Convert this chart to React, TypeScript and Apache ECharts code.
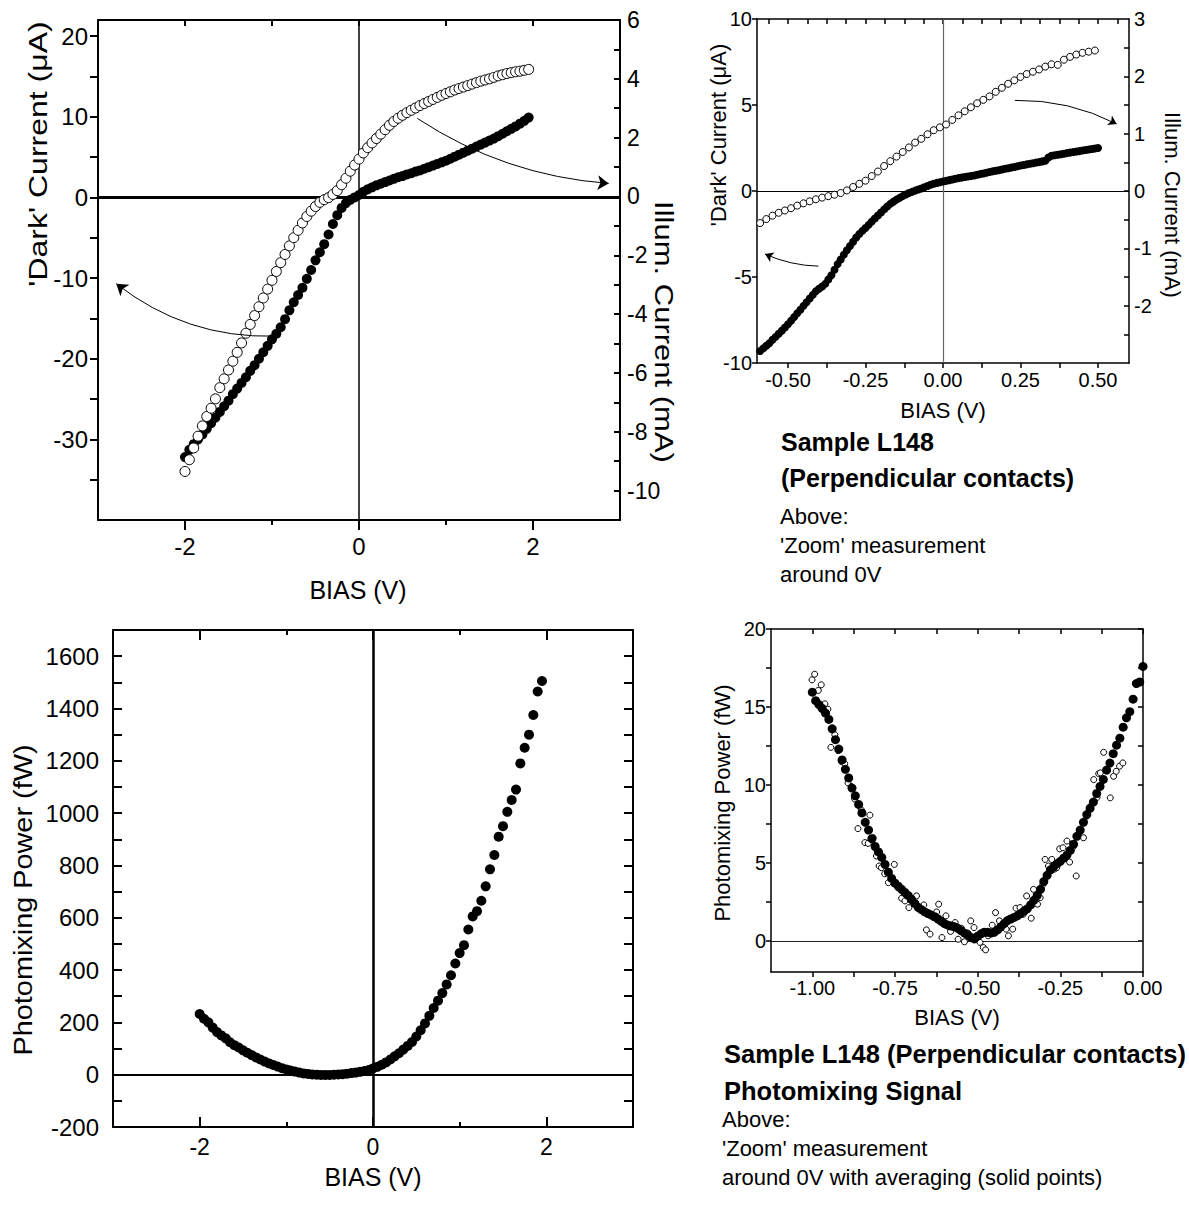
import React, { useEffect, useRef } from 'react';
import * as echarts from 'echarts';

const FONT = '"Liberation Sans", Arial, Helvetica, sans-serif';

// ---------- Panel 1: wide I-V sweep ----------
const ivBias = [-2, -1.95, -1.9, -1.85, -1.8, -1.75, -1.7, -1.65, -1.6, -1.55, -1.5, -1.45, -1.4, -1.35, -1.3, -1.25, -1.2, -1.15, -1.1, -1.05, -1, -0.95, -0.9, -0.85, -0.8, -0.75, -0.7, -0.65, -0.6, -0.55, -0.5, -0.45, -0.4, -0.35, -0.3, -0.25, -0.2, -0.15, -0.1, -0.05, 0, 0.05, 0.1, 0.15, 0.2, 0.25, 0.3, 0.35, 0.4, 0.45, 0.5, 0.55, 0.6, 0.65, 0.7, 0.75, 0.8, 0.85, 0.9, 0.95, 1, 1.05, 1.1, 1.15, 1.2, 1.25, 1.3, 1.35, 1.4, 1.45, 1.5, 1.55, 1.6, 1.65, 1.7, 1.75, 1.8, 1.85, 1.9, 1.95];
const ivDark = [
  -32.2, -31.3, -30.6, -30.0, -29.4, -28.7, -28.0, -27.3, -26.6, -25.9,
  -25.2, -24.4, -23.7, -23.0, -22.3, -21.5, -20.8, -20.0, -19.2, -18.4,
  -17.6, -16.9, -16.1, -15.1, -14.0, -13.0, -12.1, -11.2, -10.1, -9.0,
  -7.8, -6.8, -5.8, -4.6, -3.3, -2.2, -1.3, -0.7, -0.3, 0.0,
  0.3, 0.7, 1.0, 1.25, 1.5, 1.7, 1.9, 2.1, 2.3, 2.5,
  2.65, 2.85, 3.0, 3.2, 3.35, 3.55, 3.75, 3.95, 4.15, 4.35,
  4.55, 4.8, 5.05, 5.3, 5.55, 5.8, 6.05, 6.3, 6.55, 6.8,
  7.05, 7.3, 7.6, 7.9, 8.2, 8.5, 8.8, 9.15, 9.5, 9.9,
];
const ivIllum = [
  -9.35, -8.95, -8.55, -8.15, -7.8, -7.48, -7.2, -6.88, -6.5, -6.2,
  -5.9, -5.6, -5.3, -4.98, -4.65, -4.35, -4.05, -3.75, -3.45, -3.15,
  -2.85, -2.55, -2.25, -1.97, -1.68, -1.4, -1.15, -0.9, -0.68, -0.5,
  -0.34, -0.2, -0.11, -0.04, 0.07, 0.2, 0.4, 0.62, 0.86, 1.07,
  1.27, 1.48, 1.66, 1.82, 1.97, 2.12, 2.27, 2.42, 2.55, 2.66,
  2.76, 2.85, 2.93, 3.01, 3.09, 3.16, 3.23, 3.3, 3.37, 3.44,
  3.5, 3.56, 3.62, 3.67, 3.72, 3.77, 3.82, 3.87, 3.92, 3.96,
  4.0, 4.05, 4.1, 4.14, 4.18, 4.21, 4.24, 4.26, 4.29, 4.32,
];
const ivXLabels = [-2, 0, 2];
const ivXMinorTicks = [-1, 1];
const ivXTopTicks = [-2, -1, 0, 1, 2];
const ivLeftLabels = [-30, -20, -10, 0, 10, 20];
const ivLeftTicks = [-35, -30, -25, -20, -15, -10, -5, 0, 5, 10, 15, 20];
const ivRightLabels = [-10, -8, -6, -4, -2, 0, 2, 4, 6];
const ivRightTicks = [-10, -9, -8, -7, -6, -5, -4, -3, -2, -1, 0, 1, 2, 3, 4, 5];
// annotation arrows (data units of left axis): [x1, y1, x2, y2]
const ivArrowIllum = [0.67, 9.8, 2.87, 1.74];
const ivArrowDark = [-0.97, -17.2, -2.79, -10.7];

// ---------- Panel 2: zoomed I-V around 0 V ----------
const zoomDarkBias = [
  -0.59, -0.58, -0.57, -0.56, -0.55, -0.54, -0.53, -0.52, -0.51, -0.5,
  -0.49, -0.48, -0.47, -0.46, -0.45, -0.44, -0.43, -0.42, -0.41, -0.4,
  -0.39, -0.38, -0.37, -0.36, -0.35, -0.34, -0.33, -0.32, -0.31, -0.3,
  -0.29, -0.28, -0.27, -0.26, -0.25, -0.24, -0.23, -0.22, -0.21, -0.2,
  -0.19, -0.18, -0.17, -0.16, -0.15, -0.14, -0.13, -0.12, -0.11, -0.1,
  -0.09, -0.08, -0.07, -0.06, -0.05, -0.04, -0.03, -0.02, -0.01, 0,
  0.01, 0.02, 0.03, 0.04, 0.05, 0.06, 0.07, 0.08, 0.09, 0.1,
  0.11, 0.12, 0.13, 0.14, 0.15, 0.16, 0.17, 0.18, 0.19, 0.2,
  0.21, 0.22, 0.23, 0.24, 0.25, 0.26, 0.27, 0.28, 0.29, 0.3,
  0.31, 0.32, 0.33, 0.34, 0.35, 0.36, 0.37, 0.38, 0.39, 0.4,
  0.41, 0.42, 0.43, 0.44, 0.45, 0.46, 0.47, 0.48, 0.49, 0.5,
];
const zoomDark = [
  -9.3, -9.15, -9.0, -8.85, -8.65, -8.48, -8.3, -8.12, -7.94, -7.75,
  -7.54, -7.33, -7.11, -6.9, -6.68, -6.47, -6.25, -6.04, -5.83, -5.68,
  -5.55, -5.4, -5.15, -4.9, -4.58, -4.25, -3.98, -3.7, -3.44, -3.2,
  -2.95, -2.7, -2.5, -2.32, -2.15, -1.97, -1.78, -1.6, -1.42, -1.25,
  -1.07, -0.9, -0.75, -0.62, -0.5, -0.4, -0.3, -0.2, -0.12, -0.05,
  0.02, 0.09, 0.15, 0.22, 0.29, 0.36, 0.42, 0.47, 0.51, 0.55,
  0.59, 0.63, 0.67, 0.71, 0.75, 0.78, 0.81, 0.84, 0.87, 0.9,
  0.94, 0.98, 1.02, 1.06, 1.1, 1.14, 1.18, 1.21, 1.25, 1.29,
  1.32, 1.36, 1.4, 1.44, 1.48, 1.51, 1.55, 1.58, 1.61, 1.65,
  1.68, 1.72, 1.76, 1.95, 2.05, 2.08, 2.11, 2.14, 2.17, 2.2,
  2.23, 2.26, 2.29, 2.32, 2.35, 2.38, 2.41, 2.44, 2.47, 2.5,
];
const zoomIllumBias = [
  -0.59, -0.57, -0.55, -0.53, -0.51, -0.49, -0.47, -0.45, -0.43, -0.41,
  -0.39, -0.37, -0.35, -0.33, -0.31, -0.29, -0.27, -0.25, -0.23, -0.21,
  -0.19, -0.17, -0.15, -0.13, -0.11, -0.09, -0.07, -0.05, -0.03, -0.01,
  0.01, 0.03, 0.05, 0.07, 0.09, 0.11, 0.13, 0.15, 0.17, 0.19,
  0.21, 0.23, 0.25, 0.27, 0.29, 0.31, 0.33, 0.35, 0.37, 0.39,
  0.41, 0.43, 0.45, 0.47, 0.49,
];
const zoomIllum = [
  -0.56, -0.49, -0.43, -0.38, -0.34, -0.3, -0.255, -0.215, -0.18, -0.145,
  -0.115, -0.09, -0.065, -0.035, 0.01, 0.07, 0.125, 0.18, 0.26, 0.34,
  0.435, 0.52, 0.6, 0.68, 0.76, 0.845, 0.91, 0.99, 1.06, 1.11,
  1.16, 1.24, 1.32, 1.39, 1.46, 1.53, 1.59, 1.65, 1.73, 1.8,
  1.87, 1.93, 1.99, 2.04, 2.08, 2.12, 2.17, 2.21, 2.2, 2.29,
  2.34, 2.38, 2.41, 2.43, 2.45,
];
const zoomXLabels = [-0.5, -0.25, 0, 0.25, 0.5];
const zoomXTicks = [-0.5, -0.375, -0.25, -0.125, 0, 0.125, 0.25, 0.375, 0.5];
const zoomXTopTicks = [-0.5625, -0.5, -0.4375, -0.375, -0.3125, -0.25, -0.1875, -0.125, -0.0625, 0, 0.0625, 0.125, 0.1875, 0.25, 0.3125, 0.375, 0.4375, 0.5, 0.5625];
const zoomLeftLabels = [-10, -5, 0, 5, 10];
const zoomRightLabels = [-2, -1, 0, 1, 2, 3];
const zoomRightTicks = [-2.5, -2, -1.5, -1, -0.5, 0, 0.5, 1, 1.5, 2, 2.5];
const zoomArrowIllum = [0.232, 5.27, 0.56, 3.9];
const zoomArrowDark = [-0.402, -4.37, -0.574, -3.67];

// ---------- Panel 3: photomixing power, wide sweep ----------
const pmBias = [-2, -1.95, -1.9, -1.85, -1.8, -1.75, -1.7, -1.65, -1.6, -1.55, -1.5, -1.45, -1.4, -1.35, -1.3, -1.25, -1.2, -1.15, -1.1, -1.05, -1, -0.95, -0.9, -0.85, -0.8, -0.75, -0.7, -0.65, -0.6, -0.55, -0.5, -0.45, -0.4, -0.35, -0.3, -0.25, -0.2, -0.15, -0.1, -0.05, 0, 0.05, 0.1, 0.15, 0.2, 0.25, 0.3, 0.35, 0.4, 0.45, 0.5, 0.55, 0.6, 0.65, 0.7, 0.75, 0.8, 0.85, 0.9, 0.95, 1, 1.05, 1.1, 1.15, 1.2, 1.25, 1.3, 1.35, 1.4, 1.45, 1.5, 1.55, 1.6, 1.65, 1.7, 1.75, 1.8, 1.85, 1.9, 1.95];
const pmPower = [
  232, 214, 200, 180, 163, 150, 139, 124, 113, 104,
  93, 84, 75, 66, 58, 50, 43, 37, 31, 25,
  20, 16, 12, 8, 5, 3, 1, 0, -1, -1,
  -1, 0, 1, 2, 4, 6, 8, 11, 14, 18,
  24, 30, 38, 47, 58, 70, 82, 96, 110, 125,
  146, 170, 196, 225, 255, 283, 312, 345, 380, 425,
  465, 495, 555, 605, 625, 665, 720, 785, 840, 910,
  950, 1005, 1050, 1090, 1190, 1250, 1300, 1375, 1465, 1505,
];
const pmXLabels = [-2, 0, 2];
const pmXMinorTicks = [-1, 1];
const pmYLabels = [-200, 0, 200, 400, 600, 800, 1000, 1200, 1400, 1600];
const pmYTicks = [-100, 0, 100, 200, 300, 400, 500, 600, 700, 800, 900, 1000, 1100, 1200, 1300, 1400, 1500, 1600];

// ---------- Panel 4: photomixing power, zoom with averaging ----------
const avgBias = [
  -1, -0.99, -0.98, -0.97, -0.96, -0.95, -0.94, -0.93, -0.92, -0.91,
  -0.9, -0.89, -0.88, -0.87, -0.86, -0.85, -0.84, -0.83, -0.82, -0.81,
  -0.8, -0.79, -0.78, -0.77, -0.76, -0.75, -0.74, -0.73, -0.72, -0.71,
  -0.7, -0.69, -0.68, -0.67, -0.66, -0.65, -0.64, -0.63, -0.62, -0.61,
  -0.6, -0.59, -0.58, -0.57, -0.56, -0.55, -0.54, -0.53, -0.52, -0.51,
  -0.5, -0.49, -0.48, -0.47, -0.46, -0.45, -0.44, -0.43, -0.42, -0.41,
  -0.4, -0.39, -0.38, -0.37, -0.36, -0.35, -0.34, -0.33, -0.32, -0.31,
  -0.3, -0.29, -0.28, -0.27, -0.26, -0.25, -0.24, -0.23, -0.22, -0.21,
  -0.2, -0.19, -0.18, -0.17, -0.16, -0.15, -0.14, -0.13, -0.12, -0.11,
  -0.1, -0.09, -0.08, -0.07, -0.06, -0.05, -0.04, -0.03, -0.02, -0.01,
  0,
];
const avgPower = [
  15.95, 15.4, 15.15, 14.9, 14.6, 14.2, 13.6, 12.9, 12.3, 11.6,
  11.0, 10.45, 9.8, 9.3, 8.75, 8.2, 7.6, 7.1, 6.55, 6.05,
  5.7, 5.35, 4.9, 4.4, 4.0, 3.7, 3.5, 3.3, 3.1, 2.9,
  2.65, 2.4, 2.15, 2.0, 1.85, 1.75, 1.65, 1.55, 1.4, 1.25,
  1.1, 1.0, 0.95, 0.9, 0.8, 0.65, 0.5, 0.38, 0.22, 0.12,
  0.3, 0.45, 0.55, 0.55, 0.5, 0.55, 0.7, 0.9, 1.1, 1.3,
  1.4, 1.5, 1.6, 1.75, 1.9, 2.05, 2.3, 2.6, 2.9, 3.3,
  3.8, 4.2, 4.55, 4.75, 4.95, 5.1, 5.3, 5.5, 5.8, 6.2,
  6.7, 7.1, 7.6, 8.1, 8.5, 8.9, 9.45, 9.9, 10.35, 10.95,
  11.4, 12.0, 12.55, 13.0, 13.7, 14.3, 14.7, 15.5, 16.5, 16.6,
  17.6,
];
const rawBias = [
  -1.001, -0.993, -0.982, -0.973, -0.962, -0.953, -0.944, -0.932, -0.922, -0.912,
  -0.902, -0.892, -0.882, -0.872, -0.862, -0.852, -0.841, -0.831, -0.826, -0.816,
  -0.806, -0.798, -0.791, -0.781, -0.772, -0.77, -0.752, -0.74, -0.73, -0.72,
  -0.708, -0.695, -0.685, -0.674, -0.663, -0.655, -0.644, -0.634, -0.624, -0.618,
  -0.608, -0.596, -0.582, -0.568, -0.559, -0.549, -0.54, -0.53, -0.521, -0.511,
  -0.502, -0.493, -0.483, -0.476, -0.468, -0.456, -0.446, -0.434, -0.424, -0.414,
  -0.407, -0.394, -0.384, -0.372, -0.362, -0.352, -0.338, -0.331, -0.319, -0.311,
  -0.303, -0.296, -0.286, -0.276, -0.268, -0.261, -0.252, -0.242, -0.23, -0.222,
  -0.212, -0.202, -0.19, -0.18, -0.17, -0.16, -0.149, -0.139, -0.134, -0.129,
  -0.119, -0.109, -0.099, -0.089, -0.081, -0.071, -0.061,
];
const rawPower = [
  16.74, 17.1, 16.06, 16.42, 15.2, 14.86, 12.41, 13.22, 12.2, 11.5,
  11.36, 10.13, 9.9, 9.1, 7.2, 8.4, 6.3, 6.25, 8.06, 6.61,
  5.44, 4.8, 4.69, 4.3, 4.37, 3.73, 4.9, 3.4, 2.73, 2.56,
  2.13, 2.5, 2.88, 2.0, 2.3, 0.7, 0.43, 1.5, 1.85, 2.35,
  0.21, 1.6, 0.6, 1.17, 0.1, 0.8, -0.06, 0.5, 1.28, 0.85,
  0.3, -0.1, -0.43, -0.58, 0.32, 1.0, 1.81, 1.28, 0.9, 0.75,
  0.32, 0.75, 2.09, 2.13, 1.7, 2.88, 1.45, 3.3, 2.35, 2.77,
  3.6, 5.22, 4.8, 5.22, 4.6, 4.69, 5.9, 5.97, 6.4, 5.05,
  6.0, 4.16, 7.0, 6.61, 8.0, 8.6, 10.34, 9.2, 10.72, 10.77,
  12.09, 10.9, 9.17, 10.55, 10.87, 11.2, 11.41,
];
const avgXLabels = [-1, -0.75, -0.5, -0.25, 0];
const avgXTicks = [-1, -0.875, -0.75, -0.625, -0.5, -0.375, -0.25, -0.125, 0];
const avgYLabels = [0, 5, 10, 15, 20];
const avgYTicks = [0, 2.5, 5, 7.5, 10, 12.5, 15, 17.5, 20];

// ---------- helpers ----------
type AxOpt = {
  grid: number; pos: string; min: number; max: number;
  labels?: number[]; ticks?: number[]; inside?: boolean; len?: number;
  lw?: number; fs?: number; margin?: number; fmt?: (v: number) => string; line?: boolean;
};
const plain = (v: number) => String(v);
function mkAxis(o: AxOpt) {
  return {
    type: 'value',
    gridIndex: o.grid,
    position: o.pos,
    min: o.min,
    max: o.max,
    scale: false,
    splitLine: { show: false },
    minorTick: { show: false },
    minorSplitLine: { show: false },
    axisPointer: { show: false },
    axisLine: { show: o.line !== false, onZero: false, lineStyle: { color: '#000', width: o.lw ?? 1.5 } },
    axisTick: o.ticks
      ? { show: true, customValues: o.ticks, inside: !!o.inside, length: o.len ?? 5, lineStyle: { color: '#000', width: o.lw ?? 1.5 } }
      : { show: false },
    axisLabel: o.labels
      ? {
          show: true,
          customValues: o.labels,
          color: '#000',
          fontFamily: FONT,
          fontSize: o.fs ?? 20,
          margin: o.margin ?? 8,
          formatter: o.fmt ?? plain,
        }
      : { show: false },
  };
}
const zip = (xs: number[], ys: number[]) => xs.map((x, i) => [x, ys[i]]);
const arrowItem = (a: number[]) => ({ coords: [[a[0], a[1]], [a[2], a[3]]] });
const f2 = (v: number) => v.toFixed(2);

function txt(text: string, x: number, y: number, size: number, opts: any = {}) {
  const align = opts.align ?? 'left';
  return {
    type: 'text',
    x,
    y,
    rotation: opts.rotation ?? 0,
    scaleX: opts.sx ?? 1,
    scaleY: opts.sy ?? 1,
    silent: true,
    style: {
      text,
      font: `${opts.bold ? 'bold ' : ''}${size}px ${FONT}`,
      fill: '#000',
      align,
      verticalAlign: 'middle',
      textAlign: align,
      textVerticalAlign: 'middle',
    },
  };
}

export default function App() {
  const ref = useRef<HTMLDivElement>(null);

  useEffect(() => {
    document.body.style.margin = '0';
    if (!ref.current) return;
    const chart = echarts.init(ref.current, undefined, { renderer: 'svg' });

    const filled = { color: '#000', opacity: 1 };
    const hollow = { color: '#fff', borderColor: '#000', borderWidth: 1, opacity: 1 };

    const option: any = {
      animation: false,
      backgroundColor: '#fff',
      grid: [
        { left: 98, top: 20, width: 522, height: 500 },
        { left: 757, top: 19, width: 372, height: 344 },
        { left: 113, top: 630, width: 520, height: 497 },
        { left: 771, top: 629, width: 372, height: 343 },
      ],
      xAxis: [
        // panel 1
        mkAxis({ grid: 0, pos: 'bottom', min: -3, max: 3, labels: ivXLabels, ticks: ivXLabels, len: 10, lw: 2, fs: 24, margin: 14 }),
        mkAxis({ grid: 0, pos: 'bottom', min: -3, max: 3, ticks: ivXMinorTicks, len: 5, lw: 2, line: false }),
        mkAxis({ grid: 0, pos: 'top', min: -3, max: 3, ticks: ivXTopTicks, inside: true, len: 6, lw: 2 }),
        // panel 2
        mkAxis({ grid: 1, pos: 'bottom', min: -0.6, max: 0.6, labels: zoomXLabels, ticks: zoomXTicks, len: 5, lw: 1.5, fs: 20, margin: 7, fmt: f2 }),
        mkAxis({ grid: 1, pos: 'top', min: -0.6, max: 0.6, ticks: zoomXTopTicks, inside: true, len: 5, lw: 1.5 }),
        // panel 3
        mkAxis({ grid: 2, pos: 'bottom', min: -3, max: 3, labels: pmXLabels, ticks: pmXLabels, inside: true, len: 10, lw: 2, fs: 23, margin: 8 }),
        mkAxis({ grid: 2, pos: 'bottom', min: -3, max: 3, ticks: pmXMinorTicks, inside: true, len: 5, lw: 2, line: false }),
        mkAxis({ grid: 2, pos: 'top', min: -3, max: 3, ticks: pmXLabels, inside: true, len: 10, lw: 2 }),
        mkAxis({ grid: 2, pos: 'top', min: -3, max: 3, ticks: pmXMinorTicks, inside: true, len: 5, lw: 2, line: false }),
        // panel 4
        mkAxis({ grid: 3, pos: 'bottom', min: -1.125, max: 0, labels: avgXLabels, ticks: avgXTicks, len: 5, lw: 1.5, fs: 20, margin: 6, fmt: f2 }),
        mkAxis({ grid: 3, pos: 'top', min: -1.125, max: 0, ticks: avgXTicks, inside: true, len: 5, lw: 1.5 }),
      ],
      yAxis: [
        // panel 1
        mkAxis({ grid: 0, pos: 'left', min: -40, max: 22, labels: ivLeftLabels, ticks: ivLeftTicks, len: 8, lw: 2, fs: 24, margin: 10 }),
        mkAxis({ grid: 0, pos: 'right', min: -11, max: 6, labels: ivRightLabels, ticks: ivRightTicks, inside: true, len: 6, lw: 2, fs: 23, margin: 7 }),
        // panel 2
        mkAxis({ grid: 1, pos: 'left', min: -10, max: 10, labels: zoomLeftLabels, ticks: zoomLeftLabels, len: 5, lw: 1.5, fs: 20, margin: 5 }),
        mkAxis({ grid: 1, pos: 'right', min: -3, max: 3, labels: zoomRightLabels, ticks: zoomRightTicks, inside: true, len: 5, lw: 1.5, fs: 20, margin: 5 }),
        // panel 3
        mkAxis({ grid: 2, pos: 'left', min: -200, max: 1700, labels: pmYLabels, ticks: pmYTicks, inside: true, len: 9, lw: 2, fs: 24, margin: 14 }),
        mkAxis({ grid: 2, pos: 'right', min: -200, max: 1700, ticks: pmYTicks, inside: true, len: 9, lw: 2 }),
        // panel 4
        mkAxis({ grid: 3, pos: 'left', min: -2, max: 20, labels: avgYLabels, ticks: avgYTicks, len: 5, lw: 1.5, fs: 20, margin: 5 }),
        mkAxis({ grid: 3, pos: 'right', min: -2, max: 20, ticks: avgYTicks, inside: true, len: 5, lw: 1.5 }),
      ],
      series: [
        // ---- panel 1 ----
        {
          type: 'scatter', xAxisIndex: 0, yAxisIndex: 0, z: 3, clip: false,
          symbol: 'circle', symbolSize: 10,
          itemStyle: filled,
          data: zip(ivBias, ivDark),
          markLine: {
            silent: true, symbol: 'none', z: 1, label: { show: false },
            data: [
              { yAxis: 0, lineStyle: { color: '#000', width: 3, type: 'solid' } },
              { xAxis: 0, lineStyle: { color: '#000', width: 1.5, type: 'solid' } },
            ],
          },
        },
        {
          type: 'scatter', xAxisIndex: 0, yAxisIndex: 1, z: 4, clip: false,
          symbol: 'circle', symbolSize: 10,
          itemStyle: hollow,
          data: zip(ivBias, ivIllum),
        },
        {
          type: 'lines', coordinateSystem: 'cartesian2d', xAxisIndex: 0, yAxisIndex: 0, z: 5,
          symbol: ['none', 'arrow'], symbolSize: 11, silent: true,
          lineStyle: { color: '#000', width: 1, opacity: 1 },
          data: [
            { ...arrowItem(ivArrowIllum), lineStyle: { curveness: -0.13 } },
            { ...arrowItem(ivArrowDark), lineStyle: { curveness: 0.18 } },
          ],
        },
        // ---- panel 2 ----
        {
          type: 'scatter', xAxisIndex: 3, yAxisIndex: 2, z: 3, clip: false,
          symbol: 'circle', symbolSize: 8,
          itemStyle: filled,
          data: zip(zoomDarkBias, zoomDark),
          markLine: {
            silent: true, symbol: 'none', z: 1, label: { show: false },
            data: [
              { yAxis: 0, lineStyle: { color: '#000', width: 1, type: 'solid' } },
              { xAxis: 0, lineStyle: { color: '#666', width: 1.2, type: 'solid' } },
            ],
          },
        },
        {
          type: 'scatter', xAxisIndex: 3, yAxisIndex: 3, z: 4, clip: false,
          symbol: 'circle', symbolSize: 7,
          itemStyle: hollow,
          data: zip(zoomIllumBias, zoomIllum),
        },
        {
          type: 'lines', coordinateSystem: 'cartesian2d', xAxisIndex: 3, yAxisIndex: 2, z: 5,
          symbol: ['none', 'arrow'], symbolSize: 8, silent: true,
          lineStyle: { color: '#000', width: 1, opacity: 1 },
          data: [
            { ...arrowItem(zoomArrowIllum), lineStyle: { curveness: 0.125 } },
            { ...arrowItem(zoomArrowDark), lineStyle: { curveness: 0.1 } },
          ],
        },
        // ---- panel 3 ----
        {
          type: 'scatter', xAxisIndex: 5, yAxisIndex: 4, z: 3, clip: false,
          symbol: 'circle', symbolSize: 10,
          itemStyle: filled,
          data: zip(pmBias, pmPower),
          markLine: {
            silent: true, symbol: 'none', z: 1, label: { show: false },
            data: [
              { yAxis: 0, lineStyle: { color: '#000', width: 2, type: 'solid' } },
              { xAxis: 0, lineStyle: { color: '#000', width: 2.5, type: 'solid' } },
            ],
          },
        },
        // ---- panel 4 ----
        {
          type: 'scatter', xAxisIndex: 9, yAxisIndex: 6, z: 3, clip: false,
          symbol: 'circle', symbolSize: 6,
          itemStyle: hollow,
          data: zip(rawBias, rawPower),
          markLine: {
            silent: true, symbol: 'none', z: 1, label: { show: false },
            data: [{ yAxis: 0, lineStyle: { color: '#222', width: 1.2, type: 'solid' } }],
          },
        },
        {
          type: 'scatter', xAxisIndex: 9, yAxisIndex: 6, z: 4, clip: false,
          symbol: 'circle', symbolSize: 9,
          itemStyle: filled,
          data: zip(avgBias, avgPower),
        },
      ],
      graphic: [
        // panel 1 titles
        txt('BIAS (V)', 358, 590, 25, { align: 'center' }),
        txt("'Dark' Current (\u03BCA)", 38, 154, 25, { align: 'center', rotation: Math.PI / 2, sx: 1.28 }),
        txt('Illum. Current (mA)', 663, 332, 25, { align: 'center', rotation: -Math.PI / 2, sx: 1.24 }),
        // panel 2 titles
        txt('BIAS (V)', 943, 410, 22, { align: 'center' }),
        txt("'Dark' Current (\u03BCA)", 718, 135, 22, { align: 'center', rotation: Math.PI / 2 }),
        txt('Illum. Current (mA)', 1172, 205, 22, { align: 'center', rotation: -Math.PI / 2 }),
        // panel 2 caption
        txt('Sample L148', 781, 442, 25, { bold: true }),
        txt('(Perpendicular contacts)', 781, 478, 25, { bold: true }),
        txt('Above:', 780, 516, 22),
        txt("'Zoom' measurement", 780, 545, 22),
        txt('around 0V', 780, 574, 22),
        // panel 3 titles
        txt('BIAS (V)', 373, 1177, 25, { align: 'center' }),
        txt('Photomixing Power (fW)', 23, 900, 26, { align: 'center', rotation: Math.PI / 2, sx: 1.11 }),
        // panel 4 titles
        txt('BIAS (V)', 957, 1017, 22, { align: 'center' }),
        txt('Photomixing Power (fW)', 722, 803, 22, { align: 'center', rotation: Math.PI / 2 }),
        // panel 4 caption
        txt('Sample L148 (Perpendicular contacts)', 724, 1054, 25.5, { bold: true }),
        txt('Photomixing Signal', 724, 1091, 25.5, { bold: true }),
        txt('Above:', 722, 1119, 22),
        txt("'Zoom' measurement", 722, 1148, 22),
        txt('around 0V with averaging (solid points)', 722, 1177, 22),
      ],
    };

    chart.setOption(option);
    return () => {
      chart.dispose();
    };
  }, []);

  return <div ref={ref} style={{ width: 1189, height: 1210, background: '#fff' }} />;
}
